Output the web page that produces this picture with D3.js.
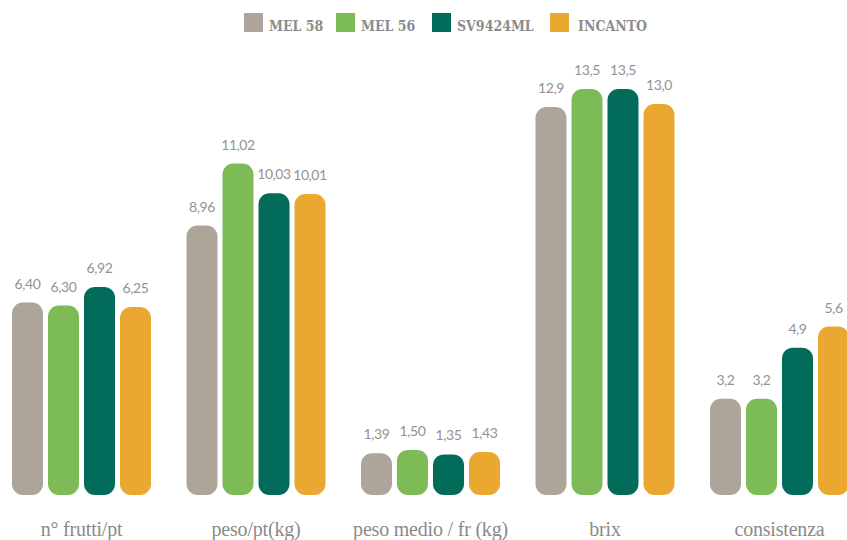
<!DOCTYPE html>
<html>
<head>
<meta charset="utf-8">
<script src="https://cdn.jsdelivr.net/npm/d3@7"></script>
<style>
  body { margin: 0; background: #fff; }
  svg { display: block; }
  .legend text {
    font-family: "DejaVu Serif Condensed", "DejaVu Serif", serif;
    font-stretch: condensed;
    font-weight: bold;
    font-size: 14px;
    fill: #8c8c8c;
  }
  .value { font-family: Lato, sans-serif; font-size: 14px; fill: #939393; letter-spacing: -0.4px; }
  .cat { font-family: "Liberation Serif", serif; font-size: 20px; fill: #8a8a8a; letter-spacing: -0.2px; }
</style>
</head>
<body>
<svg id="chart" width="847" height="540"></svg>
<script>
const categories = ['n° frutti/pt', 'peso/pt(kg)', 'peso medio / fr (kg)', 'brix', 'consistenza'];
const series = ['MEL 58', 'MEL 56', 'SV9424ML', 'INCANTO'];
const colors = ['#ada49a', '#7dbb57', '#036b5a', '#eba831'];

const mel58 = [6.40, 8.96, 1.39, 12.9, 3.2];
const mel56 = [6.30, 11.02, 1.50, 13.5, 3.2];
const sv9424 = [6.92, 10.03, 1.35, 13.5, 4.9];
const incanto = [6.25, 10.01, 1.43, 13.0, 5.6];

// labels as printed on the chart
const labels58 = ['6,40', '8,96', '1,39', '12,9', '3,2'];
const labels56 = ['6,30', '11,02', '1,50', '13,5', '3,2'];
const labelsSv = ['6,92', '10,03', '1,35', '13,5', '4,9'];
const labelsInc = ['6,25', '10,01', '1,43', '13,0', '5,6'];

const values = [mel58, mel56, sv9424, incanto];
const labels = [labels58, labels56, labelsSv, labelsInc];

const svg = d3.select('#chart');

const x0 = d3.scaleBand()
  .domain(categories)
  .range([12, 849])
  .paddingInner(0.2034)
  .paddingOuter(0);

const x1 = d3.scaleBand()
  .domain(series)
  .range([0, x0.bandwidth()])
  .paddingInner(0.139)
  .paddingOuter(0);

const baseline = 495;
const y = d3.scaleLinear()
  .domain([0, 13.5])
  .range([baseline, 89]);

const color = d3.scaleOrdinal().domain(series).range(colors);

const rows = [];
categories.forEach((c, i) => {
  series.forEach((s, j) => {
    rows.push({ cat: c, s, v: values[j][i], label: labels[j][i] });
  });
});

const groups = svg.append('g').attr('class', 'bars');

groups.selectAll('rect')
  .data(rows)
  .enter()
  .append('rect')
  .attr('x', d => x0(d.cat) + x1(d.s))
  .attr('y', d => y(d.v))
  .attr('width', x1.bandwidth())
  .attr('height', d => baseline - y(d.v))
  .attr('rx', 11)
  .attr('ry', 11)
  .attr('fill', d => color(d.s));

groups.selectAll('text')
  .data(rows)
  .enter()
  .append('text')
  .attr('class', 'value')
  .attr('x', d => x0(d.cat) + x1(d.s) + x1.bandwidth() / 2)
  .attr('y', d => y(d.v) - 14)
  .attr('text-anchor', 'middle')
  .text(d => d.label);

// category labels under each group
const xAxis = d3.axisBottom(x0).tickSize(0).tickPadding(0);
const gX = svg.append('g')
  .attr('transform', `translate(0,${baseline})`)
  .call(xAxis);
gX.select('.domain').remove();
gX.selectAll('text')
  .attr('class', 'cat')
  .attr('font-family', null)
  .attr('font-size', null)
  .attr('fill', null)
  .attr('dy', null)
  .attr('y', 41);

// legend
const legendX = [244, 336, 432, 550];
const legend = svg.append('g').attr('class', 'legend');
const item = legend.selectAll('g')
  .data(series)
  .enter()
  .append('g')
  .attr('transform', (d, i) => `translate(${legendX[i]},13)`);

item.append('rect')
  .attr('width', 19)
  .attr('height', 19)
  .attr('fill', d => color(d));

item.append('text')
  .attr('x', (d, i) => (i === 3 ? 28 : 25))
  .attr('y', 18)
  .text(d => d);
</script>
</body>
</html>
